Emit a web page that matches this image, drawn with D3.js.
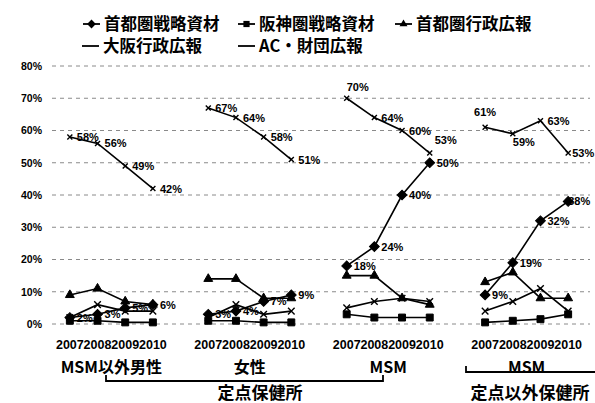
<!DOCTYPE html>
<html>
<head>
<meta charset="utf-8">
<script src="https://cdn.jsdelivr.net/npm/d3@7"></script>
<style>
    body { margin: 0; background: #fff; }
    #chart { width: 595px; height: 403px; }
    text { font-family: "Liberation Sans", Arial, sans-serif; fill: #000; }
    .jp { font-family: "Noto Sans CJK JP", sans-serif; font-weight: bold; }
</style>
</head>
<body>
<div id="chart"></div>
<script>
// ---- data (percent) ----
let groups = ["MSM以外男性", "女性", "MSM", "MSM"];
let years = ["2007", "2008", "2009", "2010"];
let sections = ["定点保健所", "定点以外保健所"];
let seriesNames = ["首都圏戦略資材", "阪神圏戦略資材", "首都圏行政広報", "大阪行政広報", "AC・財団広報"];

// one row of 4 years per group
let shutoSenryaku = [[2, 3, 5, 6], [3, 4, 7, 9], [18, 24, 40, 50], [9, 19, 32, 38]];
let hanshinSenryaku = [[1, 1, 0.5, 0.5], [1, 1, 0.5, 0.5], [3, 2, 2, 2], [0.5, 1, 1.5, 3]];
let shutoGyosei = [[9, 11, 7, 6], [14, 14, 8, 8], [15, 15, 8, 6], [13, 16, 8, 8]];
let osakaGyosei = [[2, 6, 4, 4], [2, 6, 3, 4], [5, 7, 8, 7], [4, 7, 11, 4]];
let acZaidan = [[58, 56, 49, 42], [67, 64, 58, 51], [70, 64, 60, 53], [61, 59, 63, 53]];
let yTicks = [0, 10, 20, 30, 40, 50, 60, 70, 80];

class LineVis {

    constructor(parentElement) {
        this.parentElement = parentElement;
        this.initVis();
    }

    initVis() {
        let vis = this;

        vis.width = 595;
        vis.height = 403;

        vis.svg = d3.select("#" + vis.parentElement).append("svg")
            .attr("width", vis.width)
            .attr("height", vis.height);

        // 4 groups of 4 years, one empty slot between groups
        vis.slots = d3.range(19);
        vis.x = d3.scaleBand().domain(vis.slots).range([56, 582]).padding(0);
        vis.y = d3.scaleLinear().domain([0, 80]).range([324, 66]);

        vis.series = [
            {name: seriesNames[0], values: shutoSenryaku, symbol: d3.symbolSquare, size: 48, rotate: 45, fill: true, labels: true},
            {name: seriesNames[1], values: hanshinSenryaku, symbol: d3.symbolSquare, size: 48, rotate: 0, fill: true},
            {name: seriesNames[2], values: shutoGyosei, symbol: d3.symbolTriangle, size: 34, rotate: 0, fill: true},
            {name: seriesNames[3], values: osakaGyosei, symbol: d3.symbolX, size: 30, rotate: 0, fill: false},
            {name: seriesNames[4], values: acZaidan, symbol: d3.symbolX, size: 18, rotate: 0, fill: false, labels: true}
        ];

        // hand moved labels (series-group-year): [dx, dy]
        vis.labelNudge = {
            "0-3-3": [-7, 0],
            "4-2-0": [-7, -11],
            "4-2-3": [-2, -13],
            "4-3-0": [-18, -15],
            "4-3-1": [-7, 8],
            "4-3-3": [-3, 0]
        };

        vis.wrangleData();
    }

    wrangleData() {
        let vis = this;
        vis.series.forEach((s, si) => {
            s.points = [];
            s.values.forEach((row, g) => {
                row.forEach((v, j) => {
                    s.points.push({si: si, g: g, j: j, value: v, slot: g * 5 + j});
                });
            });
        });
        vis.updateVis();
    }

    cx(slot) { return this.x(slot) + this.x.bandwidth() / 2; }

    updateVis() {
        let vis = this;

        // gridlines
        vis.svg.append("g").selectAll("line")
            .data(yTicks)
            .enter().append("line")
            .attr("x1", 52).attr("x2", 590)
            .attr("y1", d => vis.y(d)).attr("y2", d => vis.y(d))
            .attr("stroke", "#8a8a8a")
            .attr("stroke-width", 1)
            .attr("stroke-dasharray", "4,4");

        // y axis
        let yAxis = d3.axisLeft(vis.y)
            .tickValues(yTicks)
            .tickSize(0)
            .tickPadding(0)
            .tickFormat(d => d + "%");
        let yg = vis.svg.append("g")
            .attr("transform", "translate(42,0)")
            .call(yAxis);
        yg.select(".domain").remove();
        yg.selectAll("text")
            .style("font-size", "10.5px")
            .style("font-weight", "bold")
            .style("font-family", "Liberation Sans, Arial, sans-serif");

        // x axis: year labels
        let xAxis = d3.axisBottom(vis.x)
            .tickSize(0)
            .tickPadding(0)
            .tickFormat(d => (d % 5 === 4) ? "" : years[d % 5]);
        let xg = vis.svg.append("g")
            .attr("transform", "translate(0,340)")
            .call(xAxis);
        xg.select(".domain").remove();
        xg.selectAll("text")
            .style("font-size", "12.5px")
            .style("font-weight", "bold")
            .style("font-family", "Liberation Sans, Arial, sans-serif");

        // group labels
        vis.svg.append("g").selectAll("text")
            .data(groups)
            .enter().append("text")
            .attr("class", "jp")
            .attr("x", (d, g) => (vis.cx(g * 5) + vis.cx(g * 5 + 3)) / 2)
            .attr("y", 373)
            .attr("text-anchor", "middle")
            .style("font-size", "16px")
            .text(d => d);

        // section brackets
        let br = vis.svg.append("g")
            .attr("fill", "none")
            .attr("stroke", "#000")
            .attr("stroke-width", 1.8);
        br.append("path").attr("d", "M106,375 V381 H383 V375");
        br.append("path").attr("d", "M466,366 V372 H595");

        vis.svg.append("text")
            .attr("class", "jp")
            .attr("x", 260).attr("y", 399)
            .attr("text-anchor", "middle")
            .style("font-size", "17px")
            .text(sections[0]);
        vis.svg.append("text")
            .attr("class", "jp")
            .attr("x", 530).attr("y", 399)
            .attr("text-anchor", "middle")
            .style("font-size", "17px")
            .text(sections[1]);

        // lines: one path per series per group
        let line = d3.line()
            .x(d => vis.cx(d.slot))
            .y(d => vis.y(d.value));

        vis.series.forEach((s, si) => {
            let sg = vis.svg.append("g").attr("class", "series-" + si);

            sg.selectAll("path.line")
                .data(d3.range(groups.length).map(g => s.points.filter(p => p.g === g)))
                .enter().append("path")
                .attr("class", "line")
                .attr("d", line)
                .attr("fill", "none")
                .attr("stroke", "#000")
                .attr("stroke-width", 1.6);

            sg.selectAll("path.marker")
                .data(s.points)
                .enter().append("path")
                .attr("class", "marker")
                .attr("d", d3.symbol().type(s.symbol).size(s.size))
                .attr("transform", d => `translate(${vis.cx(d.slot)},${vis.y(d.value)}) rotate(${s.rotate})`)
                .attr("fill", s.fill ? "#000" : "none")
                .attr("stroke", "#000")
                .attr("stroke-width", s.fill ? 1 : 1.4);

            if (s.labels) {
                sg.selectAll("text")
                    .data(s.points)
                    .enter().append("text")
                    .attr("x", d => vis.cx(d.slot) + 7 + (vis.labelNudge[si + "-" + d.g + "-" + d.j] || [0, 0])[0])
                    .attr("y", d => vis.y(d.value) + 4 + (vis.labelNudge[si + "-" + d.g + "-" + d.j] || [0, 0])[1])
                    .style("font-size", "11px")
                    .style("font-weight", "bold")
                    .text(d => Math.round(d.value) + "%");
            }
        });

        // legend
        let legendPos = [[83, 24], [238, 24], [395, 24], [82, 46], [238, 46]];
        let legend = vis.svg.append("g").selectAll("g")
            .data(vis.series)
            .enter().append("g")
            .attr("transform", (d, i) => `translate(${legendPos[i][0]},${legendPos[i][1]})`);

        legend.append("line")
            .attr("x1", 0).attr("x2", 17)
            .attr("stroke", "#000")
            .attr("stroke-width", 1.8);

        legend.filter((d, i) => i < 3).append("path")
            .attr("d", d => d3.symbol().type(d.symbol).size(d.size * 0.8)())
            .attr("transform", d => `translate(8.5,0) rotate(${d.rotate})`)
            .attr("fill", "#000");

        legend.append("text")
            .attr("class", "jp")
            .attr("x", 21)
            .attr("y", 6)
            .style("font-size", "16.5px")
            .text(d => d.name);
    }
}

new LineVis("chart");
</script>
</body>
</html>
